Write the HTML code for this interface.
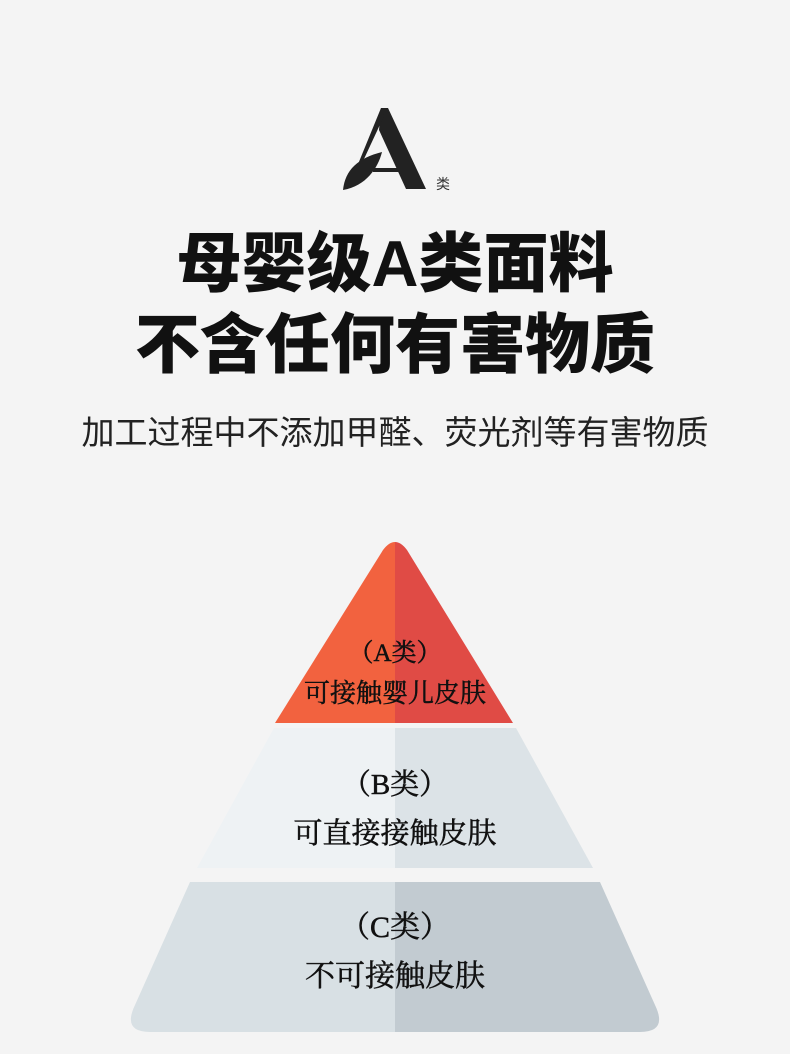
<!DOCTYPE html>
<html><head><meta charset="utf-8"><style>
html,body{margin:0;padding:0;background:#f4f4f4;}
body{width:790px;height:1054px;position:relative;overflow:hidden;font-family:"Liberation Sans","Noto Sans CJK SC",sans-serif;}
.t{position:absolute;left:0;width:790px;text-align:center;color:#111;white-space:nowrap;}
.h{font-weight:900;font-size:65px;line-height:70px;}
.s{font-size:33px;line-height:40px;top:413px;color:#222;}
.p{font-family:"Liberation Serif","Noto Serif CJK SC",serif;font-size:29px;color:#111;-webkit-text-stroke:0.5px #111;}
</style></head><body>
<svg width="790" height="1054" style="position:absolute;left:0;top:0">
  <polygon points="381,108 388,108 426,189 406,189 379,130" fill="#222"/>
  <polygon points="381,108 384,116 357,174 354,174" fill="#222"/>
  <rect x="373" y="168" width="36" height="4" fill="#222"/>
  <path d="M343,190 C345,170 358,158 382,152 C378,168 366,186 343,190 Z" fill="#222"/>
  <text x="436" y="189" font-size="14" fill="#333" font-family="Noto Sans CJK SC, sans-serif">类</text>
  <defs>
    <clipPath id="L"><rect x="0" y="0" width="395" height="1054"/></clipPath>
    <clipPath id="R"><rect x="395" y="0" width="400" height="1054"/></clipPath>
    <path id="pa" d="M275,723 L383,550 Q395,534 407,550 L513,723 Z"/>
    <path id="pb" d="M274,728 L516,728 L593,868 L197,868 Z"/>
    <path id="pc" d="M190,882 L600,882 L655,1005 Q668,1032 640,1032 L150,1032 Q122,1032 135,1005 Z"/>
  </defs>
  <use href="#pa" fill="#f2623f" clip-path="url(#L)"/>
  <use href="#pa" fill="#e04b45" clip-path="url(#R)"/>
  <use href="#pb" fill="#eef2f4" clip-path="url(#L)"/>
  <use href="#pb" fill="#dce3e7" clip-path="url(#R)"/>
  <use href="#pc" fill="#d8e0e4" clip-path="url(#L)"/>
  <use href="#pc" fill="#c2cbd1" clip-path="url(#R)"/>
</svg>
<div class="t h" style="top:229px">母婴级A类面料</div>
<div class="t h" style="top:310px">不含任何有害物质</div>
<div class="t s">加工过程中不添加甲醛、荧光剂等有害物质</div>
<div class="t p" style="top:633px;font-size:25px">（A类）</div>
<div class="t p" style="top:673px;font-size:26px">可接触婴儿皮肤</div>
<div class="t p" style="top:762px">（B类）</div>
<div class="t p" style="top:811px">可直接接触皮肤</div>
<div class="t p" style="top:902px;font-size:30px">（C类）</div>
<div class="t p" style="top:951px;font-size:30px">不可接触皮肤</div>
</body></html>
